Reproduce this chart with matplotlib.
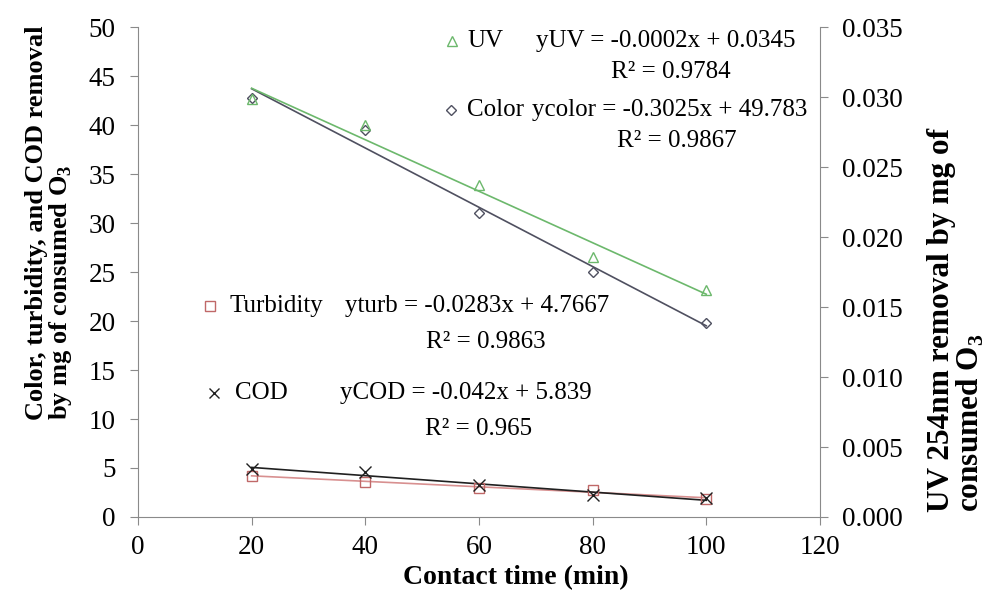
import numpy as np
import matplotlib
matplotlib.use("Agg")
import matplotlib.pyplot as plt

plt.rcParams['font.family'] = ['Liberation Serif', 'DejaVu Serif']
plt.rcParams['mathtext.fontset'] = 'custom'
plt.rcParams['mathtext.rm'] = 'Liberation Serif'
plt.rcParams['mathtext.bf'] = 'Liberation Serif:bold'

time = np.array([20, 40, 60, 80, 100])
uv = np.array([0.0299, 0.0280, 0.0237, 0.0186, 0.0162])   # right axis
color = np.array([42.8, 39.5, 31.0, 25.0, 19.8])
turb = np.array([4.2, 3.6, 3.0, 2.8, 1.8])
cod = np.array([4.9, 4.6, 3.3, 2.2, 1.9])

c_uv = '#6cb86c'
c_color = '#4f5060'
c_turb = '#c06868'
c_cod = '#202020'
spine_c = '#8a8a8a'

fig = plt.figure(figsize=(9.89, 6.05), dpi=100)
ax = fig.add_axes([0.1395, 0.1455, 0.6895, 0.8095])
ax2 = ax.twinx()

def trend(axe, y, col, marker, ms, lc):
    k, b = np.polyfit(time, y, 1)
    axe.plot(time, k * time + b, color=lc, lw=1.2, zorder=2)
    axe.plot(time, y, marker, ms=ms, mfc='none', mec=col, mew=1.0, ls='none', zorder=3)

trend(ax, color, c_color, 'D', 5.5, c_color)
trend(ax, turb, c_turb, 's', 7, '#d89090')
trend(ax, cod, c_cod, 'x', 8, c_cod)
trend(ax2, uv, c_uv, '^', 7.5, c_uv)

ax.set_xlim(0, 120)
ax.set_ylim(0, 50)
ax2.set_ylim(0, 0.035)
ax.set_xticks(np.arange(0, 121, 20))
ax.set_yticks(np.arange(0, 51, 5))
ax2.set_yticks(np.arange(0, 0.0351, 0.005))
ax2.set_yticklabels([f"{v:.3f}" for v in np.arange(0, 0.0351, 0.005)])

for a in (ax, ax2):
    a.spines['top'].set_visible(False)
    for s in a.spines.values():
        s.set_color(spine_c)
    a.tick_params(labelsize=19.5, colors=spine_c, labelcolor='black', length=6, width=0.8)
ax.spines['right'].set_visible(False)
ax2.spines['left'].set_visible(False)
ax2.spines['bottom'].set_visible(False)
ax.tick_params(axis='y', pad=10)
ax.tick_params(axis='x', pad=7)
ax2.tick_params(axis='y', pad=10)

fig.text(0.522, 0.025, 'Contact time (min)', ha='center', va='bottom',
         fontsize=20, fontweight='bold')
fig.text(0.05, 0.306, 'Color, turbidity, and COD removal\nby mg of consumed O$_\\mathbf{3}$',
         rotation=90, ha='center', va='bottom', multialignment='left',
         fontsize=19, fontweight='bold', linespacing=0.95)
fig.text(0.967, 0.154, 'UV 254nm removal by mg of\nconsumed O$_\\mathbf{3}$',
         rotation=90, ha='center', va='bottom', multialignment='left',
         fontsize=22.5, fontweight='bold', linespacing=0.95)

# legend entries and trendline equations
fs = 18
def key(xm, ym, marker, col, ms, label, xl):
    ax.plot([xm], [ym], marker, ms=ms, mfc='none', mec=col, mew=1.0,
            transform=ax.transAxes, clip_on=False)
    ax.text(xl, ym, label, transform=ax.transAxes, fontsize=fs, va='center')

key(0.461, 0.972, '^', c_uv, 7, 'UV', 0.483)
ax.text(0.583, 0.972, 'yUV = -0.0002x + 0.0345', transform=ax.transAxes, fontsize=fs, va='center')
ax.text(0.781, 0.908, 'R² = 0.9784', transform=ax.transAxes, fontsize=fs, va='center', ha='center')

key(0.459, 0.831, 'D', c_color, 5.5, 'Color', 0.482)
ax.text(0.578, 0.831, 'ycolor = -0.3025x + 49.783', transform=ax.transAxes, fontsize=fs, va='center')
ax.text(0.79, 0.767, 'R² = 0.9867', transform=ax.transAxes, fontsize=fs, va='center', ha='center')

key(0.105, 0.43, 's', c_turb, 7, 'Turbidity', 0.134)
ax.text(0.303, 0.43, 'yturb = -0.0283x + 4.7667', transform=ax.transAxes, fontsize=fs, va='center')
ax.text(0.51, 0.358, 'R² = 0.9863', transform=ax.transAxes, fontsize=fs, va='center', ha='center')

key(0.112, 0.253, 'x', c_cod, 7.5, 'COD', 0.143)
ax.text(0.296, 0.253, 'yCOD = -0.042x + 5.839', transform=ax.transAxes, fontsize=fs, va='center')
ax.text(0.50, 0.18, 'R² = 0.965', transform=ax.transAxes, fontsize=fs, va='center', ha='center')

fig.savefig('out.png', dpi=100)
